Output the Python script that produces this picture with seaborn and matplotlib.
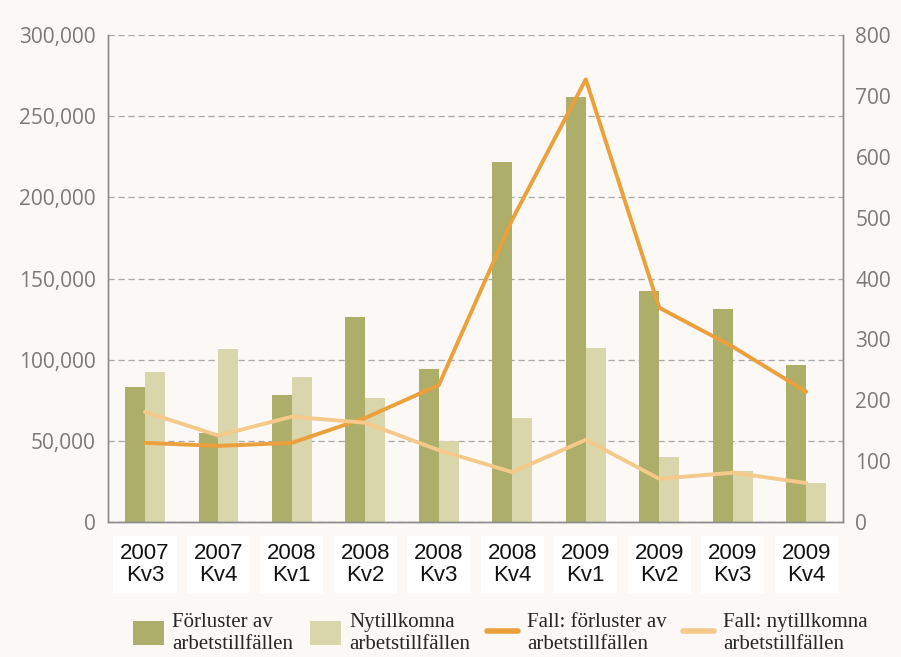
import matplotlib
matplotlib.use("Agg")
import matplotlib.pyplot as plt
import matplotlib.ticker as mticker
from matplotlib.patches import Patch
from matplotlib.lines import Line2D
import pandas as pd
import seaborn as sns

# ---- data ----
quarters = ["2007\nKv3", "2007\nKv4", "2008\nKv1", "2008\nKv2", "2008\nKv3",
            "2008\nKv4", "2009\nKv1", "2009\nKv2", "2009\nKv3", "2009\nKv4"]
jobs_lost = [83000, 55000, 78000, 126000, 94000, 222000, 262000, 142000, 131000, 97000]
jobs_new = [92500, 106500, 89500, 76500, 50000, 64000, 107000, 40000, 31500, 24000]
cases_lost = [130, 125, 130, 171, 225, 497, 727, 352, 288, 214]
cases_new = [181, 142, 173, 163, 118, 82, 135, 71, 81, 64]

bar_labels = ["Förluster av\narbetstillfällen", "Nytillkomna\narbetstillfällen"]
line_labels = ["Fall: förluster av\narbetstillfällen", "Fall: nytillkomna\narbetstillfällen"]

bar_colors = ["#ADAE69", "#DAD6AC"]
line_colors = ["#EBA03C", "#F4C98A"]
bg = "#FBF8F5"
axis_grey = "#8C8C8C"

bars_df = pd.DataFrame({
    "quarter": quarters * 2,
    "series": [bar_labels[0]] * len(quarters) + [bar_labels[1]] * len(quarters),
    "value": jobs_lost + jobs_new,
})
lines_df = pd.DataFrame({
    "quarter": quarters * 2,
    "series": [line_labels[0]] * len(quarters) + [line_labels[1]] * len(quarters),
    "value": cases_lost + cases_new,
})

# ---- plot ----
sns.set_style("white")
plt.rcParams["font.family"] = ["Open Sans", "DejaVu Sans"]

fig = plt.figure(figsize=(9.01, 6.57), dpi=100, facecolor=bg)
ax = fig.add_axes([0.12, 0.2055, 0.8156, 0.7412])
ax.set_facecolor(bg)

sns.barplot(data=bars_df, x="quarter", y="value", hue="series",
            palette=bar_colors, width=0.54, gap=0, saturation=1,
            edgecolor="none", legend=False, ax=ax)

ax2 = ax.twinx()
sns.pointplot(data=lines_df, x="quarter", y="value", hue="series",
              palette=line_colors, markers="", linestyles="-",
              linewidth=2.8, errorbar=None, legend=False, ax=ax2)

ax.set_xlim(-0.5, len(quarters) - 0.5)
ax.set_ylim(0, 300000)
ax2.set_ylim(0, 800)
ax.set_yticks(range(0, 300001, 50000))
ax2.set_yticks(range(0, 801, 100))
ax.yaxis.set_major_formatter(mticker.FuncFormatter(lambda v, p: f"{v:,.0f}"))

ax.set_axisbelow(True)
ax.yaxis.grid(True, linestyle=(0, (5, 3)), color="#A8A8A8", linewidth=0.9)
ax2.grid(False)

for a in (ax, ax2):
    a.set_xlabel("")
    a.set_ylabel("")
    a.spines["top"].set_visible(False)
    for s in ("left", "right", "bottom"):
        a.spines[s].set_color(axis_grey)
        a.spines[s].set_linewidth(1.0)
    a.tick_params(axis="both", length=0)
    a.tick_params(axis="y", labelsize=15, labelcolor="#7A7A7A", pad=9)

ax.tick_params(axis="x", pad=15)
for lbl in ax.get_xticklabels():
    lbl.set_fontfamily(["Liberation Sans", "DejaVu Sans"])
    lbl.set_fontsize(16)
    lbl.set_color("#111111")
    lbl.set_linespacing(1.1)
    lbl.set_bbox(dict(facecolor="white", edgecolor="none", pad=5))

handles = [
    Patch(facecolor=bar_colors[0], edgecolor="none"),
    Patch(facecolor=bar_colors[1], edgecolor="none"),
    Line2D([], [], color=line_colors[0], linewidth=4),
    Line2D([], [], color=line_colors[1], linewidth=4),
]
fig.legend(handles, bar_labels + line_labels, loc="center",
           bbox_to_anchor=(0.555, 0.036), ncol=4, frameon=False,
           prop={"family": ["Liberation Serif", "DejaVu Serif"], "size": 15},
           handlelength=1.5, handleheight=1.4, handletextpad=0.4,
           columnspacing=0.8, labelspacing=0.2)

plt.savefig("out.png", dpi=100, facecolor=bg)
